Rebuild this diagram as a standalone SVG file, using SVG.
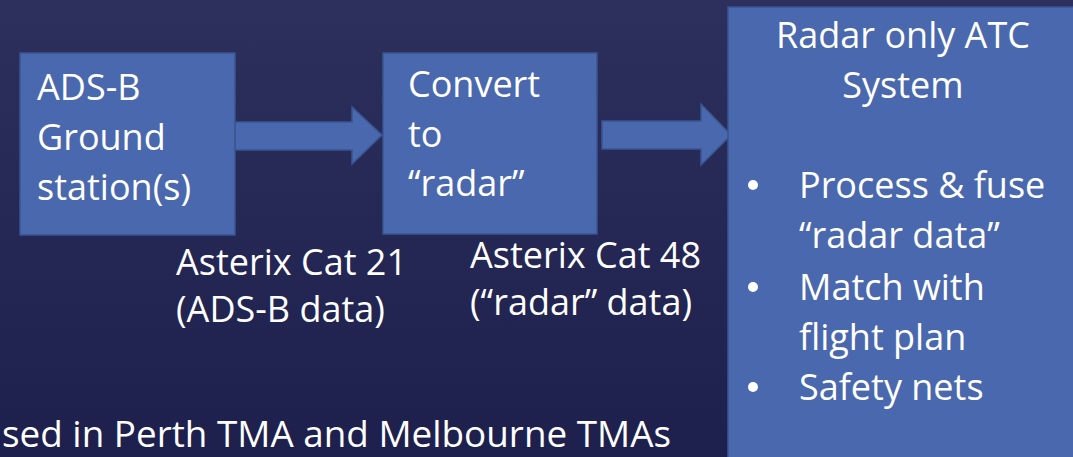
<svg xmlns="http://www.w3.org/2000/svg" width="1073" height="457" viewBox="0 0 1073 457">
  <defs>
    <linearGradient id="bg" x1="0" y1="0" x2="0" y2="1">
      <stop offset="0" stop-color="#2d2f5d"/>
      <stop offset="1" stop-color="#1d1f4c"/>
    </linearGradient>
    <style>
      .box { fill: #4a68ad; stroke: #3a5691; stroke-width: 1.5; }
      .arrow { fill: #4a68ad; stroke: #3a5691; stroke-width: 1.5; }
      .t { font-family: "Open Sans", "Noto Sans", sans-serif; font-size: 36px; fill: #ffffff; }
      .dot { fill: #ffffff; }
    </style>
  </defs>
  <rect x="0" y="0" width="1073" height="457" fill="url(#bg)"/>

  <g id="connectors">
    <polygon class="arrow" points="235,122 352,122 352,107 382,135 352,164 352,150 235,150"/>
    <polygon class="arrow" points="602,121 701,121 701,104 731,135 701,165 701,149 602,149"/>
  </g>

  <g id="node-adsb">
    <rect class="box" x="20" y="53" width="215" height="182"/>
    <text class="t" x="37" y="100">ADS-B</text>
    <text class="t" x="37" y="150">Ground</text>
    <text class="t" x="37" y="200">station(s)</text>
  </g>

  <g id="node-convert">
    <rect class="box" x="383" y="53" width="214" height="181"/>
    <text class="t" x="408" y="97">Convert</text>
    <text class="t" x="408" y="147">to</text>
    <text class="t" x="408" y="196">“radar”</text>
  </g>

  <g id="node-atc">
    <rect class="box" x="728" y="7" width="360" height="460"/>
    <text class="t" x="903" y="48" text-anchor="middle">Radar only ATC</text>
    <text class="t" x="903" y="98" text-anchor="middle">System</text>
    <circle class="dot" cx="753" cy="185" r="5"/>
    <text class="t" x="799" y="198">Process &amp; fuse</text>
    <text class="t" x="799" y="248">“radar data”</text>
    <circle class="dot" cx="753" cy="287" r="5"/>
    <text class="t" x="799" y="300">Match with</text>
    <text class="t" x="799" y="350">flight plan</text>
    <circle class="dot" cx="753" cy="387" r="5"/>
    <text class="t" x="799" y="400">Safety nets</text>
  </g>

  <g id="labels">
    <text class="t" x="176" y="275">Asterix Cat 21</text>
    <text class="t" x="176" y="322">(ADS-B data)</text>
    <text class="t" x="470" y="268">Asterix Cat 48</text>
    <text class="t" x="470" y="315">(“radar” data)</text>
    <text class="t" x="2" y="447" textLength="669" lengthAdjust="spacingAndGlyphs" style="font-size:37px">sed in Perth TMA and Melbourne TMAs</text>
  </g>
</svg>
